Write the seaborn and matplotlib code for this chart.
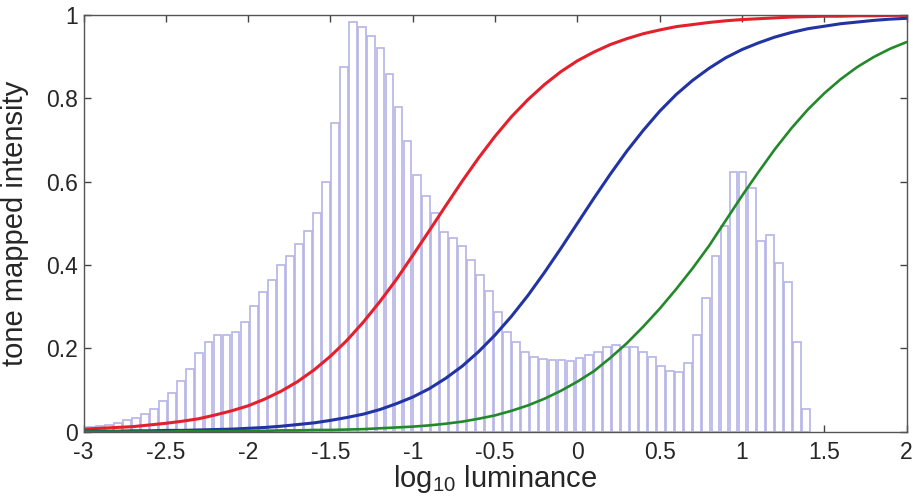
import numpy as np
import pandas as pd
import matplotlib
matplotlib.use("Agg")
import matplotlib.pyplot as plt
import seaborn as sns

# histogram of log10 luminance (80 bins)
bin_start = -2.984
bin_width = 0.055
hist_heights = [
    0.011, 0.014, 0.017, 0.021, 0.029, 0.033, 0.043, 0.055, 0.073, 0.093,
    0.121, 0.151, 0.189, 0.214, 0.232, 0.232, 0.238, 0.264, 0.302, 0.336,
    0.364, 0.400, 0.422, 0.450, 0.482, 0.524, 0.598, 0.740, 0.876, 0.982,
    0.970, 0.950, 0.920, 0.858, 0.780, 0.698, 0.616, 0.566, 0.524, 0.480,
    0.464, 0.446, 0.412, 0.376, 0.338, 0.288, 0.240, 0.214, 0.190, 0.180,
    0.174, 0.172, 0.172, 0.170, 0.176, 0.184, 0.192, 0.202, 0.207, 0.204,
    0.202, 0.192, 0.178, 0.158, 0.146, 0.144, 0.164, 0.232, 0.320, 0.422,
    0.494, 0.624, 0.624, 0.584, 0.458, 0.472, 0.404, 0.360, 0.214, 0.054,
]

# tone curves sampled every 0.1 from -3 to 2
curve_x = np.linspace(-3, 2, 51)
red_curve = [
    0.006, 0.008, 0.010, 0.012, 0.016, 0.020, 0.025, 0.031, 0.040, 0.050,
    0.062, 0.078, 0.097, 0.120, 0.148, 0.181, 0.219, 0.263, 0.312, 0.365,
    0.423, 0.482, 0.542, 0.601, 0.657, 0.709, 0.756, 0.797, 0.833, 0.864,
    0.890, 0.911, 0.929, 0.943, 0.955, 0.964, 0.972, 0.977, 0.982, 0.986,
    0.989, 0.991, 0.993, 0.995, 0.996, 0.997, 0.997, 0.998, 0.998, 0.999,
    0.999,
]
blue_curve = [
    0.001, 0.001, 0.001, 0.002, 0.002, 0.003, 0.003, 0.004, 0.005, 0.006,
    0.008, 0.010, 0.013, 0.017, 0.021, 0.027, 0.034, 0.042, 0.053, 0.067,
    0.083, 0.103, 0.128, 0.157, 0.192, 0.232, 0.277, 0.327, 0.382, 0.440,
    0.500, 0.560, 0.618, 0.673, 0.723, 0.769, 0.809, 0.843, 0.872, 0.897,
    0.917, 0.933, 0.947, 0.958, 0.967, 0.973, 0.979, 0.983, 0.987, 0.990,
    0.992,
]
green_curve = [
    0.000, 0.000, 0.000, 0.000, 0.000, 0.000, 0.001, 0.001, 0.001, 0.001,
    0.002, 0.002, 0.003, 0.003, 0.004, 0.004, 0.005, 0.006, 0.008, 0.010,
    0.012, 0.015, 0.019, 0.024, 0.031, 0.039, 0.050, 0.063, 0.079, 0.098,
    0.120, 0.145, 0.177, 0.212, 0.252, 0.295, 0.342, 0.392, 0.446, 0.506,
    0.566, 0.623, 0.678, 0.728, 0.773, 0.812, 0.846, 0.875, 0.899, 0.919,
    0.935,
]

x_ticks = [-3, -2.5, -2, -1.5, -1, -0.5, 0, 0.5, 1, 1.5, 2]
x_tick_labels = ["-3", "-2.5", "-2", "-1.5", "-1", "-0.5", "0", "0.5", "1", "1.5", "2"]
y_ticks = [0, 0.2, 0.4, 0.6, 0.8, 1]
y_tick_labels = ["0", "0.2", "0.4", "0.6", "0.8", "1"]

sns.set_style("ticks")
plt.rcParams["font.family"] = ["Liberation Sans", "DejaVu Sans"]
plt.rcParams["mathtext.default"] = "regular"
plt.rcParams["axes.unicode_minus"] = False

fig = plt.figure(figsize=(9.13, 4.99), dpi=100)
ax = fig.add_axes([0.0915, 0.135, 0.9015, 0.835])

edges = bin_start + bin_width * np.arange(len(hist_heights) + 1)
hist_df = pd.DataFrame({
    "lum": (edges[:-1] + edges[1:]) / 2,
    "height": hist_heights,
})
sns.histplot(data=hist_df, x="lum", weights="height", bins=list(edges), ax=ax,
             shrink=0.86, facecolor="white",
             edgecolor="#b4b4e8", linewidth=1.2, alpha=1)

sns.lineplot(x=curve_x, y=red_curve, ax=ax, color="#e3202b", linewidth=2.2)
sns.lineplot(x=curve_x, y=blue_curve, ax=ax, color="#2233a3", linewidth=2.2)
sns.lineplot(x=curve_x, y=green_curve, ax=ax, color="#22892b", linewidth=1.9)

ax.set_xlim(-3, 2)
ax.set_ylim(0, 1)
ax.set_xticks(x_ticks)
ax.set_xticklabels(x_tick_labels)
ax.set_yticks(y_ticks)
ax.set_yticklabels(y_tick_labels)
ax.tick_params(direction="in", length=5, width=1, top=True, right=True,
               labelsize=16.5, color="#444444")
ax.tick_params(axis="x", pad=7)
ax.tick_params(axis="y", pad=4)
for s in ax.spines.values():
    s.set_visible(True)
    s.set_color("#555555")
    s.set_linewidth(1)

ax.set_xlabel("log$_{10}$ luminance", fontsize=21, labelpad=-1)
ax.set_ylabel("tone mapped intensity", fontsize=21, labelpad=12)

fig.savefig("out.png", dpi=100)
